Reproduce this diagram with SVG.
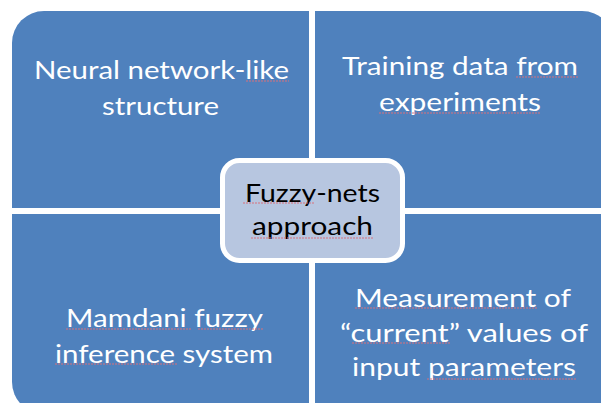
<svg xmlns="http://www.w3.org/2000/svg" width="601" height="403" viewBox="0 0 601 403">
  <style>
    .quad { fill: #4F81BD; }
    .center { fill: #B7C6E0; stroke: #FFFFFF; stroke-width: 5; }
    .wt { font-family: Lato, "Open Sans", "Liberation Sans", sans-serif; font-size: 25px; fill: #FFFFFF; text-anchor: middle; }
    .bt { font-family: Lato, "Open Sans", "Liberation Sans", sans-serif; font-size: 25px; fill: #000000; text-anchor: middle; }
    .sq { stroke: #D8707C; stroke-width: 1; stroke-dasharray: 2 1; fill: none; }
  </style>
  <rect width="601" height="403" fill="#FFFFFF"/>

  <g id="node-neural">
    <path class="quad" d="M12,208 V43 A32,32 0 0 1 44,11 H309 V208 Z"/>
    <text class="wt" x="161.5" y="79" textLength="255" lengthAdjust="spacingAndGlyphs">Neural network-like</text>
    <text class="wt" x="160.5" y="115" textLength="117" lengthAdjust="spacingAndGlyphs">structure</text>
    <line class="sq" x1="246" y1="81" x2="289" y2="81"/>
  </g>

  <g id="node-training">
    <path class="quad" d="M315,11 H582 A32,32 0 0 1 614,43 V208 H315 Z"/>
    <text class="wt" x="460" y="75" textLength="236" lengthAdjust="spacingAndGlyphs">Training data from</text>
    <text class="wt" x="460" y="111" textLength="162" lengthAdjust="spacingAndGlyphs">experiments</text>
    <line class="sq" x1="516" y1="77" x2="579" y2="77"/>
    <line class="sq" x1="379" y1="113" x2="541" y2="113"/>
  </g>

  <g id="node-mamdani">
    <path class="quad" d="M12,214 H309 V414 H44 A32,32 0 0 1 12,382 Z"/>
    <text class="wt" x="164.5" y="327" textLength="197" lengthAdjust="spacingAndGlyphs">Mamdani fuzzy</text>
    <text class="wt" x="164" y="363" textLength="218" lengthAdjust="spacingAndGlyphs">inference system</text>
    <line class="sq" x1="66" y1="329" x2="192" y2="329"/>
    <line class="sq" x1="198" y1="329" x2="263" y2="329"/>
    <line class="sq" x1="55" y1="364" x2="177" y2="364"/>
  </g>

  <g id="node-measurement">
    <rect class="quad" x="315" y="214" width="299" height="200"/>
    <text class="wt" x="463" y="307" textLength="216" lengthAdjust="spacingAndGlyphs">Measurement of</text>
    <text class="wt" x="464" y="342" textLength="248" lengthAdjust="spacingAndGlyphs">“current” values of</text>
    <text class="wt" x="464" y="376" textLength="224" lengthAdjust="spacingAndGlyphs">input parameters</text>
    <line class="sq" x1="355" y1="308" x2="538" y2="308"/>
    <line class="sq" x1="352" y1="343" x2="450" y2="343"/>
    <line class="sq" x1="427" y1="379" x2="577" y2="379"/>
  </g>

  <g id="node-center">
    <rect class="center" x="222.5" y="160.5" width="180" height="100" rx="17" ry="17"/>
    <text class="bt" x="312.5" y="202" textLength="135" lengthAdjust="spacingAndGlyphs">Fuzzy-nets</text>
    <text class="bt" x="312.5" y="235" textLength="121" lengthAdjust="spacingAndGlyphs">approach</text>
    <line class="sq" x1="243" y1="203" x2="315" y2="203"/>
    <line class="sq" x1="251" y1="238" x2="374" y2="238"/>
  </g>

  <g id="connectors"></g>
</svg>
